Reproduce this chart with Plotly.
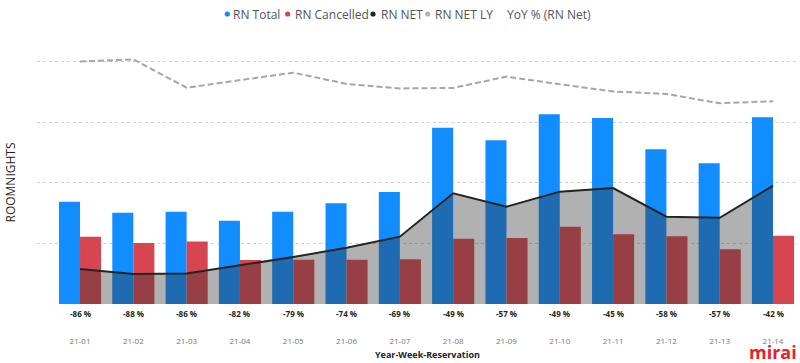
import plotly.graph_objects as go

weeks = ["21-01", "21-02", "21-03", "21-04", "21-05", "21-06", "21-07",
         "21-08", "21-09", "21-10", "21-11", "21-12", "21-13", "21-14"]
rn_total = [843, 753, 761, 687, 761, 830, 923, 1453, 1350, 1564, 1533, 1275, 1160, 1539]
rn_cancelled = [555, 503, 515, 363, 365, 365, 368, 538, 544, 637, 575, 558, 451, 563]
rn_net = [289, 247, 251, 319, 387, 464, 555, 913, 802, 926, 956, 720, 711, 975]
rn_net_ly = [1998, 2017, 1783, 1845, 1907, 1814, 1777, 1781, 1874, 1811, 1752, 1731, 1655, 1671]
yoy = [-86, -88, -86, -82, -79, -74, -69, -49, -57, -49, -45, -58, -57, -42]

BLUE = "#118DFF"
RED = "#D64550"
BLACK = "#252423"
GRAY = "#A6A6A6"
FONT = "Segoe UI, Open Sans, sans-serif"

W, H = 800, 363
L, R, T, B = 37, 3, 40, 59
PW, PH = W - L - R, H - T - B


def px(x):
    return (x - L) / PW


def py(y):
    return (H - B - y) / PH


fig = go.Figure()
fig.add_trace(go.Bar(x=weeks, y=rn_total, name="RN Total", marker_color=BLUE,
                     marker_line_width=0))
fig.add_trace(go.Bar(x=weeks, y=rn_cancelled, name="RN Cancelled", marker_color=RED,
                     marker_line_width=0))
fig.add_trace(go.Scatter(x=weeks, y=rn_net, name="RN NET", mode="lines",
                         line=dict(color=BLACK, width=2),
                         fill="tozeroy", fillcolor="rgba(53,53,53,0.39)"))
fig.add_trace(go.Scatter(x=weeks, y=rn_net_ly, name="RN NET LY", mode="lines",
                         line=dict(color=GRAY, width=2, dash="6px,3px")))

annotations = []
for w, v in zip(weeks, yoy):
    annotations.append(dict(x=w, y=0, xref="x", yref="y", text=f"<b>{v} %</b>",
                            showarrow=False, yshift=-9, yanchor="middle",
                            font=dict(family=FONT, size=8, color=BLACK)))

# legend (manual)
legend_items = [
    ("RN Total", BLUE, 227.3, 231),
    ("RN Cancelled", RED, 287.7, 292.7),
    ("RN NET", BLACK, 373, 379),
    ("RN NET LY", "#B3B3B3", 427.7, 433),
    ("YoY % (RN Net)", None, None, 505),
]
shapes = []
for label, col, dx, tx in legend_items:
    if col is not None:
        shapes.append(dict(type="circle", xref="paper", yref="paper",
                           xsizemode="pixel", ysizemode="pixel",
                           xanchor=px(dx), yanchor=py(14),
                           x0=-2.6, x1=2.6, y0=-2.6, y1=2.6,
                           fillcolor=col, line_width=0))
    annotations.append(dict(x=px(tx), y=py(14), xref="paper", yref="paper",
                            text=label, showarrow=False, xanchor="left",
                            yanchor="middle",
                            font=dict(family=FONT, size=12, color="#555555")))

annotations.append(dict(x=px(10), y=py(182.5), xref="paper", yref="paper",
                        text="ROOMNIGHTS", textangle=-90, showarrow=False,
                        xanchor="center", yanchor="middle",
                        font=dict(family=FONT, size=12, color=BLACK)))
annotations.append(dict(x=px(427), y=py(354), xref="paper", yref="paper",
                        text="<b>Year-Week-Reservation</b>", showarrow=False,
                        xanchor="center", yanchor="middle",
                        font=dict(family=FONT, size=9, color=BLACK)))
annotations.append(dict(x=px(773), y=py(352), xref="paper", yref="paper",
                        text="<b>mirai</b>", showarrow=False,
                        xanchor="center", yanchor="middle",
                        font=dict(family=FONT, size=18, color="#E8202A")))

fig.update_layout(
    width=W, height=H,
    margin=dict(l=L, r=R, t=T, b=B, pad=0),
    paper_bgcolor="white", plot_bgcolor="white",
    barmode="group", bargap=0.21, bargroupgap=0,
    showlegend=False,
    font=dict(family=FONT),
    annotations=annotations, shapes=shapes,
)
fig.update_xaxes(type="category", range=[-0.807, 13.45], showgrid=False,
                 showline=False, zeroline=False, ticks="",
                 tickfont=dict(family=FONT, size=8, color="#777777"),
                 ticklabelstandoff=31)
fig.update_yaxes(range=[0, 2176], dtick=500, showticklabels=False,
                 showgrid=True, gridcolor="#CFCFCF", griddash="dot", gridwidth=1,
                 zeroline=False, showline=False)

fig.write_html("out.html", config={"displayModeBar": False},
               post_script="document.body.style.margin='0';")
